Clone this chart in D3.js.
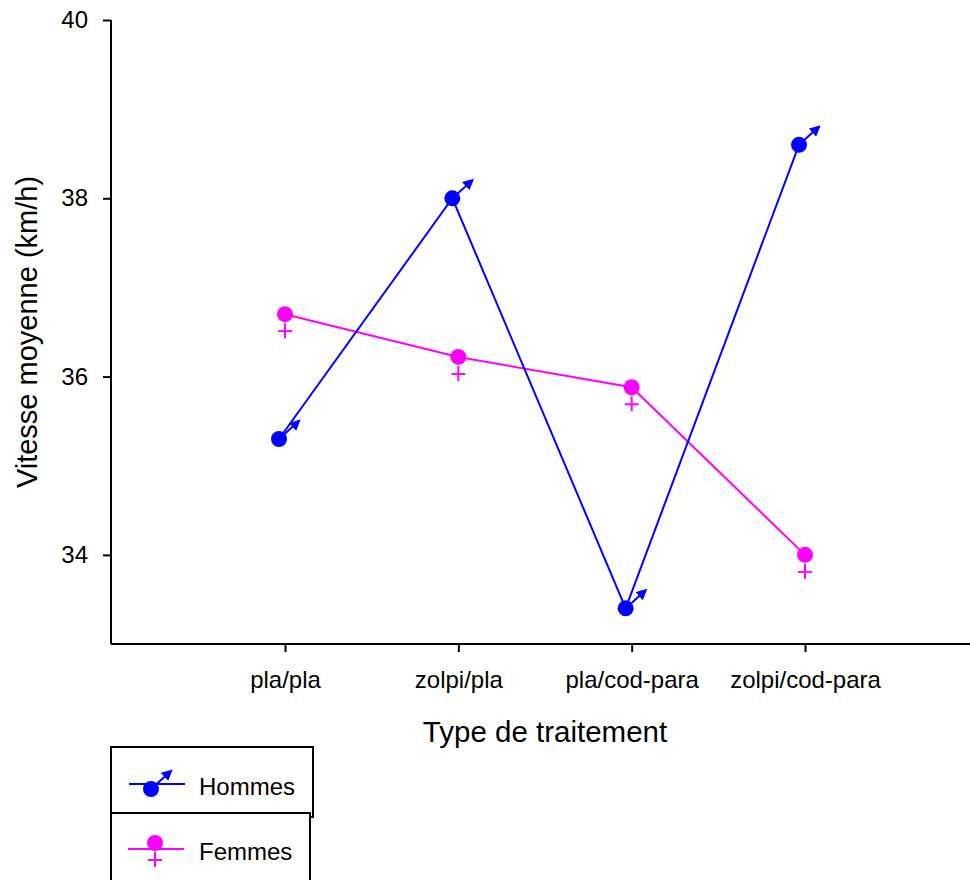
<!DOCTYPE html>
<html><head><meta charset="utf-8">
<script src="https://cdn.jsdelivr.net/npm/d3@7"></script>
<style>body{margin:0;background:#fff;} svg{display:block;font-family:"Liberation Sans",Arial,Helvetica,sans-serif;}</style>
</head><body>
<svg id="chart" width="970" height="880"></svg>
<script>
const categories = ["pla/pla", "zolpi/pla", "pla/cod-para", "zolpi/cod-para"];
const hommes = [35.3, 38.0, 33.4, 38.6];
const femmes = [36.7, 36.22, 35.88, 34.0];
const yTicks = [34, 36, 38, 40];
const seriesNames = ["Hommes", "Femmes"];
const colors = ["#0000ff", "#ff00ff"];

const svg = d3.select("#chart");
const mLeft = 111, mTop = 20, mBottom = 644, mRight = 970;
const y = d3.scaleLinear().domain([33, 40]).range([mBottom, mTop]);
const x = d3.scalePoint().domain(categories).range([285, 805]);
const offsets = [-6, 0];
const FONT = "Liberation Sans, Arial, sans-serif";

// y axis
const ya = svg.append("g").attr("transform", `translate(${mLeft},0)`)
  .call(d3.axisLeft(y).tickValues(yTicks).tickFormat(d3.format("d")).tickSize(8).tickPadding(15).tickSizeOuter(0));
ya.select(".domain").attr("stroke","#000").attr("stroke-width",2).attr("d",`M0,${mTop}V${mBottom}`);
ya.selectAll(".tick line").attr("stroke-width",2);
ya.selectAll("text").attr("font-size",24).attr("font-family",FONT).attr("fill","#000");

// x axis
const xa = svg.append("g").attr("transform", `translate(0,${mBottom})`)
  .call(d3.axisBottom(x).tickSize(8).tickPadding(19).tickSizeOuter(0));
xa.select(".domain").attr("stroke","#000").attr("stroke-width",2).attr("d",`M${mLeft},0H${mRight}`);
xa.selectAll(".tick line").attr("stroke-width",2);
xa.selectAll("text").attr("font-size",24).attr("font-family",FONT).attr("fill","#000");

// titles
svg.append("text").attr("x",545).attr("y",742).attr("text-anchor","middle")
  .attr("font-size",29.5).text("Type de traitement");
svg.append("text").attr("transform","translate(37,332) rotate(-90)").attr("text-anchor","middle")
  .attr("font-size",29).text("Vitesse moyenne (km/h)");

const defs = svg.append("defs");
defs.append("marker").attr("id","arrowM").attr("viewBox","0 0 10 10").attr("refX",8).attr("refY",5)
  .attr("markerWidth",5.5).attr("markerHeight",5.5).attr("orient","auto")
  .append("path").attr("d","M0,0L10,5L0,10z").attr("fill",colors[0]);

function maleSymbol(g, cx, cy){
  g.append("line").attr("x1",cx).attr("y1",cy).attr("x2",cx+20).attr("y2",cy-18)
    .attr("stroke",colors[0]).attr("stroke-width",2).attr("marker-end","url(#arrowM)");
  g.append("circle").attr("cx",cx).attr("cy",cy).attr("r",8).attr("fill",colors[0]);
}
function femaleSymbol(g, cx, cy){
  g.append("line").attr("x1",cx).attr("y1",cy+9).attr("x2",cx).attr("y2",cy+24)
    .attr("stroke",colors[1]).attr("stroke-width",2);
  g.append("line").attr("x1",cx-7).attr("y1",cy+17).attr("x2",cx+7).attr("y2",cy+17)
    .attr("stroke",colors[1]).attr("stroke-width",2);
  g.append("circle").attr("cx",cx).attr("cy",cy).attr("r",8).attr("fill",colors[1]);
}

const data = [hommes, femmes];
const line = d3.line();
[1,0].forEach(si=>{
  const pts = data[si].map((v,i)=>[x(categories[i])+offsets[si], y(v)]);
  svg.append("path").attr("d",line(pts)).attr("fill","none").attr("stroke",colors[si]).attr("stroke-width",2);
});
[1,0].forEach(si=>{
  const g = svg.append("g");
  data[si].forEach((v,i)=>{
    const cx = x(categories[i])+offsets[si], cy = y(v);
    if(si===0) maleSymbol(g,cx,cy); else femaleSymbol(g,cx,cy);
  });
});

// legend
const boxes = [{x:111,y:747,w:202,h:70},{x:111,y:813,w:199,h:80}];
[0,1].forEach(si=>{
  const b = boxes[si];
  svg.append("rect").attr("x",b.x).attr("y",b.y).attr("width",b.w).attr("height",b.h)
    .attr("fill","#fff").attr("stroke","#000").attr("stroke-width",2);
});
{
  const g = svg.append("g");
  g.append("line").attr("x1",129).attr("x2",185).attr("y1",784).attr("y2",784).attr("stroke",colors[0]).attr("stroke-width",2);
  maleSymbol(g,151,789);
  g.append("text").attr("x",199).attr("y",795).attr("font-size",24).attr("font-family",FONT).text(seriesNames[0]);
  const g2 = svg.append("g");
  g2.append("line").attr("x1",128).attr("x2",184).attr("y1",849).attr("y2",849).attr("stroke",colors[1]).attr("stroke-width",2);
  femaleSymbol(g2,155,843);
  g2.append("text").attr("x",199).attr("y",860).attr("font-size",24).attr("font-family",FONT).text(seriesNames[1]);
}
</script>
</body></html>
